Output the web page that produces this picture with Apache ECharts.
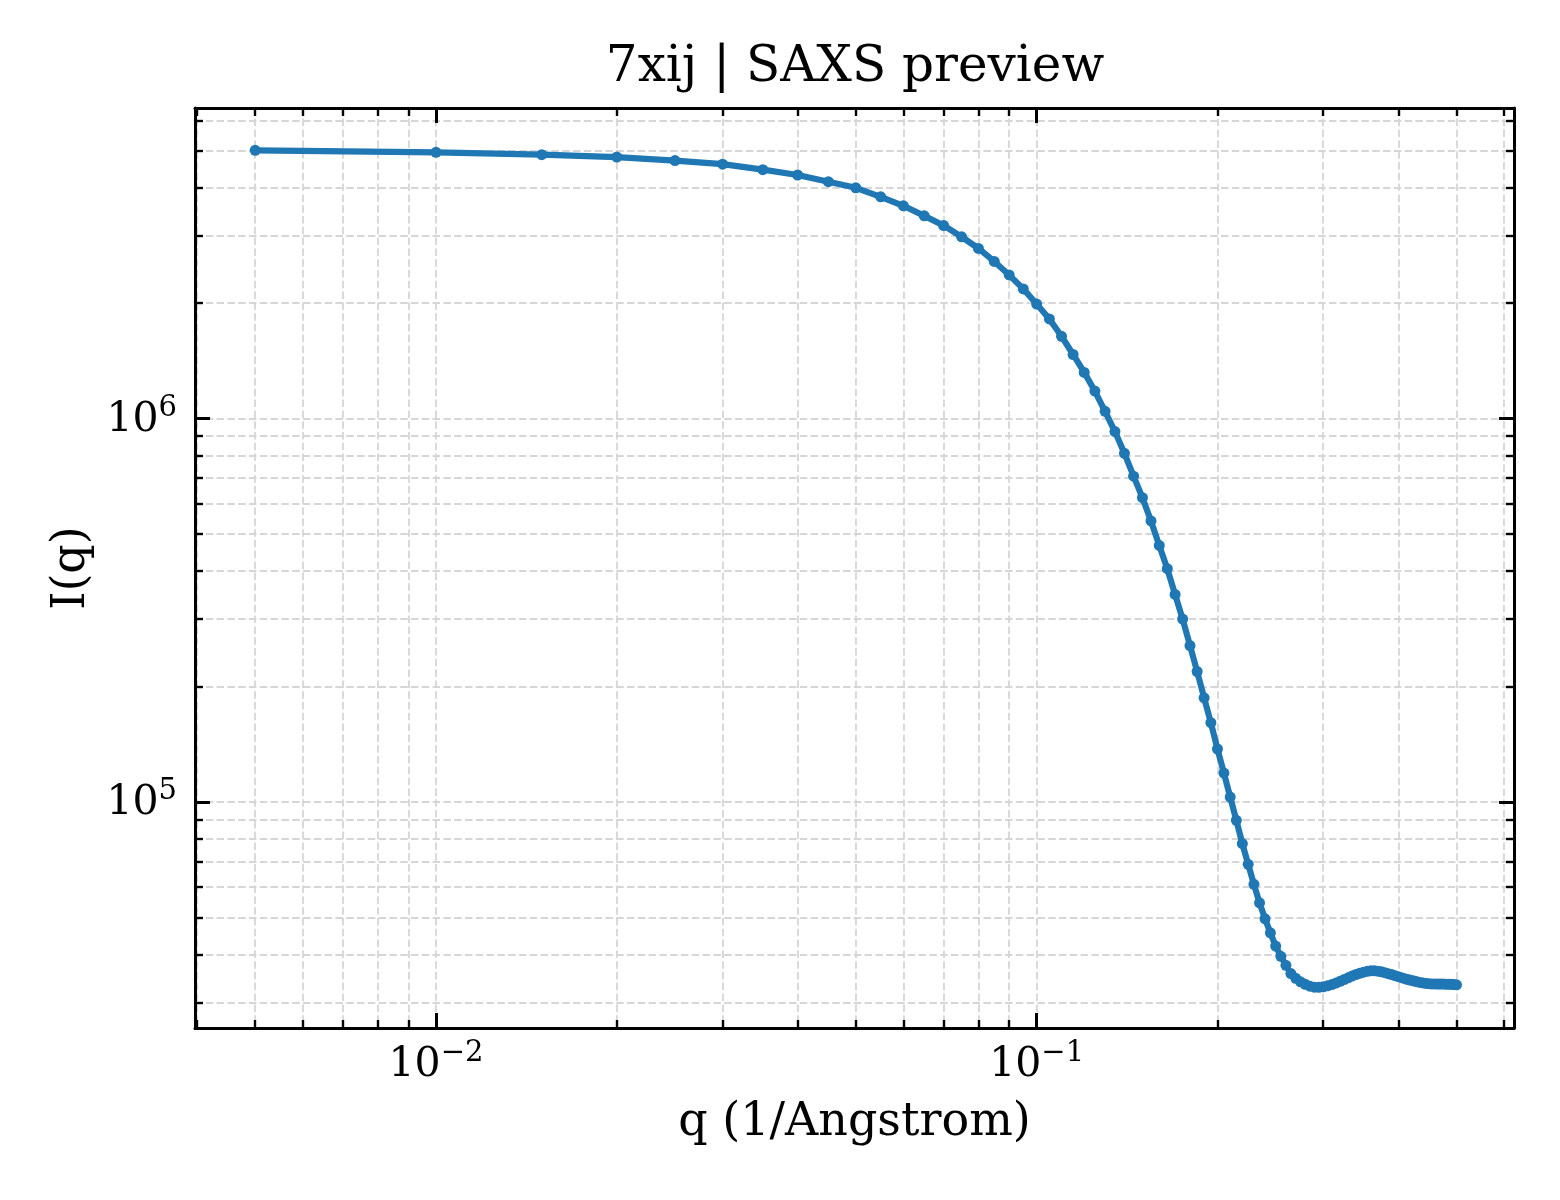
<!DOCTYPE html>
<html>
<head>
<meta charset="utf-8">
<title>7xij | SAXS preview</title>
<script src="https://cdn.jsdelivr.net/npm/echarts@6/dist/echarts.min.js"></script>
<style>
html, body { margin: 0; padding: 0; background: #fff; }
#chart { width: 1560px; height: 1200px; }
</style>
</head>
<body>
<div id="chart"></div>
<script>
// q in 1/Angstrom
var qValues = [
    0.005, 0.010, 0.015, 0.020, 0.025, 0.030, 0.035, 0.040, 0.045, 0.050,
    0.055, 0.060, 0.065, 0.070, 0.075, 0.080, 0.085, 0.090, 0.095, 0.100,
    0.105, 0.110, 0.115, 0.120, 0.125, 0.130, 0.135, 0.140, 0.145, 0.150,
    0.155, 0.160, 0.165, 0.170, 0.175, 0.180, 0.185, 0.190, 0.195, 0.200,
    0.205, 0.210, 0.215, 0.220, 0.225, 0.230, 0.235, 0.240, 0.245, 0.250,
    0.255, 0.260, 0.265, 0.270, 0.275, 0.280, 0.285, 0.290, 0.295, 0.300,
    0.305, 0.310, 0.315, 0.320, 0.325, 0.330, 0.335, 0.340, 0.345, 0.350,
    0.355, 0.360, 0.365, 0.370, 0.375, 0.380, 0.385, 0.390, 0.395, 0.400,
    0.405, 0.410, 0.415, 0.420, 0.425, 0.430, 0.435, 0.440, 0.445, 0.450,
    0.455, 0.460, 0.465, 0.470, 0.475, 0.480, 0.485, 0.490, 0.495, 0.500
];
// I(q)
var intensity = [
    5.01e6, 4.95e6, 4.88e6, 4.81e6, 4.71e6, 4.61e6, 4.46e6, 4.32e6, 4.15e6, 4.00e6,
    3.79e6, 3.59e6, 3.38e6, 3.19e6, 2.98e6, 2.78e6, 2.57e6, 2.37e6, 2.18e6, 1.99e6,
    1.82e6, 1.64e6, 1.47e6, 1.32e6, 1.18e6, 1.045e6, 9.25e5, 8.12e5, 7.08e5, 6.22e5,
    5.41e5, 4.67e5, 4.06e5, 3.48e5, 3.00e5, 2.56e5, 2.19e5, 1.87e5, 1.61e5, 1.375e5,
    1.19e5, 1.03e5, 8.96e4, 7.79e4, 6.88e4, 6.10e4, 5.46e4, 4.96e4, 4.56e4, 4.21e4,
    39600, 37500, 35700, 34690, 33960, 33460, 33100, 32900, 32860, 32960,
    33160, 33420, 33720, 34060, 34430, 34790, 35150, 35470, 35750, 36000,
    36180, 36290, 36290, 36220, 36070, 35890, 35680, 35470, 35250, 35040,
    34830, 34620, 34430, 34270, 34110, 33960, 33840, 33740, 33650, 33600,
    33550, 33530, 33510, 33510, 33510, 33490, 33470, 33460, 33420, 33360
];

var xLimits = [0.00397, 0.6233];
var yLimits = [25740, 6.46e6];
var xMajorTicks = [0.01, 0.1];
var xMinorTicks = [0.004, 0.005, 0.006, 0.007, 0.008, 0.009,
    0.02, 0.03, 0.04, 0.05, 0.06, 0.07, 0.08, 0.09,
    0.2, 0.3, 0.4, 0.5, 0.6];
var yMajorTicks = [1e5, 1e6];
var yMinorTicks = [3e4, 4e4, 5e4, 6e4, 7e4, 8e4, 9e4,
    2e5, 3e5, 4e5, 5e5, 6e5, 7e5, 8e5, 9e5,
    2e6, 3e6, 4e6, 5e6, 6e6];

var serif = "'DejaVu Serif', 'Liberation Serif', serif";

function powerLabel(v) {
    var e = Math.round(Math.log10(v));
    return '{b|10}{s|' + (e < 0 ? '\u2212' + (-e) : e) + '}';
}

var gridLine = {
    show: true,
    lineStyle: { color: '#d6d6d6', width: 1.8, type: [7.5, 3.3] }
};

function makeAxis(limits, ticks, major, position, labels, split) {
    return {
        type: 'log',
        logBase: 10,
        position: position,
        min: limits[0],
        max: limits[1],
        offset: 0,
        axisLine: { show: major, onZero: false, lineStyle: { color: '#000', width: 3 } },
        axisTick: {
            show: true,
            inside: true,
            length: major ? 15 : 8,
            customValues: ticks,
            lineStyle: { color: '#000', width: major ? 3 : 2.4 }
        },
        axisLabel: labels ? {
            show: true,
            customValues: ticks,
            margin: 14,
            formatter: powerLabel,
            rich: {
                b: { fontFamily: serif, fontSize: 41, color: '#000', lineHeight: 44, verticalAlign: 'bottom' },
                s: { fontFamily: serif, fontSize: 29, color: '#000', lineHeight: 30, padding: [0, 0, 18, 0], verticalAlign: 'bottom' }
            }
        } : { show: false },
        splitLine: split ? gridLine : { show: false },
        minorTick: { show: false },
        minorSplitLine: { show: false }
    };
}

var xBottomMinor = makeAxis(xLimits, xMinorTicks, false, 'bottom', false, true);
var xBottomMajor = makeAxis(xLimits, xMajorTicks, true, 'bottom', true, true);
xBottomMajor.name = 'q (1/Angstrom)';
xBottomMajor.nameLocation = 'middle';
xBottomMajor.nameGap = 72;
xBottomMajor.nameTextStyle = { fontFamily: serif, fontSize: 46, color: '#000' };
var xTopMinor = makeAxis(xLimits, xMinorTicks, false, 'top', false, false);
var xTopMajor = makeAxis(xLimits, xMajorTicks, true, 'top', false, false);

var yLeftMinor = makeAxis(yLimits, yMinorTicks, false, 'left', false, true);
var yLeftMajor = makeAxis(yLimits, yMajorTicks, true, 'left', true, true);
yLeftMajor.axisLabel.margin = 18;
yLeftMajor.name = 'I(q)';
yLeftMajor.nameLocation = 'middle';
yLeftMajor.nameGap = 100;
yLeftMajor.nameRotate = 90;
yLeftMajor.nameTextStyle = { fontFamily: serif, fontSize: 46, color: '#000' };
var yRightMinor = makeAxis(yLimits, yMinorTicks, false, 'right', false, false);
var yRightMajor = makeAxis(yLimits, yMajorTicks, true, 'right', false, false);

var points = [];
for (var i = 0; i < qValues.length; i++) {
    points.push([qValues[i], intensity[i]]);
}

var myChart = echarts.init(document.getElementById('chart'));
myChart.setOption({
    animation: false,
    backgroundColor: '#fff',
    title: {
        text: '7xij | SAXS preview',
        left: 855,
        top: 43,
        padding: 0,
        textAlign: 'center',
        textStyle: { fontFamily: serif, fontSize: 50, fontWeight: 'normal', color: '#000' }
    },
    grid: {
        left: 195,
        right: 46,
        top: 108,
        bottom: 172,
        show: false,
        containLabel: false,
        outerBoundsMode: 'none'
    },
    xAxis: [xBottomMinor, xBottomMajor, xTopMinor, xTopMajor],
    yAxis: [yLeftMinor, yLeftMajor, yRightMinor, yRightMajor],
    series: [{
        name: 'I(q)',
        type: 'line',
        xAxisIndex: 1,
        yAxisIndex: 1,
        data: points,
        symbol: 'circle',
        symbolSize: 11,
        showSymbol: true,
        smooth: false,
        itemStyle: { color: '#1f77b4' },
        lineStyle: { color: '#1f77b4', width: 6.2 },
        z: 5
    }]
});

window.onresize = function () {
    myChart.resize();
};
</script>
</body>
</html>
